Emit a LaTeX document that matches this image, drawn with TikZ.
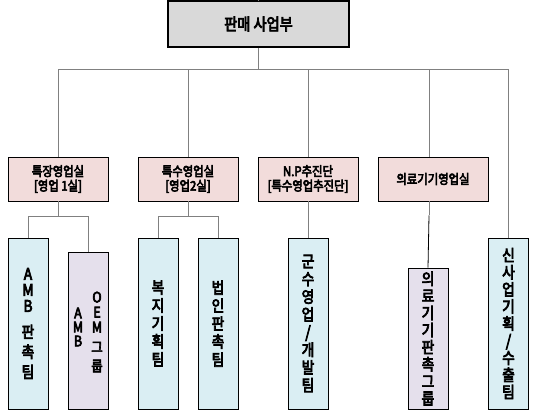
\documentclass[tikz,border=0pt]{standalone}
\usepackage{fontspec}
\newfontfamily\kr[FakeStretch=0.86,FakeBold=4.5]{Noto Sans CJK KR}
\definecolor{topfill}{HTML}{D9D9D9}
\definecolor{pinkfill}{HTML}{F2DCDB}
\definecolor{bluefill}{HTML}{DAEEF3}
\definecolor{purplefill}{HTML}{E5E0EC}
\definecolor{linegray}{HTML}{808080}
\tikzset{
  topbox/.style={draw=black, line width=1.3pt, fill=topfill, minimum width=181pt, minimum height=46pt, inner sep=0pt, font=\kr\fontsize{16.5}{18}\selectfont},
  deptbox/.style={draw=black, line width=0.8pt, fill=pinkfill, minimum height=44pt, inner sep=0pt, align=center, font=\kr\fontsize{13.2}{14.5}\selectfont},
  teambox/.style={draw=black, line width=0.8pt, fill=bluefill, minimum width=40pt, inner sep=0pt, align=center},
  grpbox/.style={teambox, fill=purplefill},
  vt/.style={font=\kr\fontsize{16}{#1}\selectfont},
  conn/.style={draw=linegray, line width=0.8pt},
  darkconn/.style={draw=black, line width=0.8pt}
}
\begin{document}
\begin{tikzpicture}[x=1pt,y=-1pt]
\useasboundingbox (0,0) rectangle (534,418);
% top
\node[topbox] (top) at (258.5,24) {판매 사업부};
\coordinate (topstub) at (258.5,0);
% departments
\node[deptbox, minimum width=100pt] (d1) at (58,179) {특장영업실\\{[}영업 1실{]}};
\node[deptbox, minimum width=100pt] (d2) at (188,179) {특수영업실\\{[}영업2실{]}};
\node[deptbox, minimum width=100pt] (d3) at (308,179) {N.P추진단\\{[}특수영업추진단{]}};
\node[deptbox, minimum width=110pt] (d4) at (433,179) {의료기기영업실};
% teams
\node[teambox, minimum height=171pt, vt=16] (t1) at (28,323.5) {A\\M\\B\\[10pt]판\\[4pt]촉\\[4pt]팀};
\node[grpbox, minimum height=157pt] (t2) at (88,330.5) {};
\node[font=\kr\fontsize{14.5}{14}\selectfont, align=center, inner sep=0pt] (t2a) at (78,327) {A\\M\\B};
\node[font=\kr\fontsize{14.5}{15}\selectfont, align=center, inner sep=0pt] (t2b) at (97,332) {O\\E\\M\\[5pt]그\\[4pt]룹};
\node[teambox, minimum height=171pt, vt=18] (t3) at (158,323.5) {복\\지\\기\\획\\팀};
\node[teambox, minimum height=171pt, vt=18] (t4) at (218,323.5) {법\\인\\판\\촉\\팀};
\node[teambox, minimum height=171pt, vt=17.7] (t5) at (308,323.5) {군\\수\\영\\업\\/\\개\\발\\팀};
\node[grpbox, minimum height=141pt, vt=17.1] (t6) at (428,338.5) {의\\료\\기\\기\\판\\촉\\그\\룹};
\node[teambox, minimum height=171pt, vt=17.1] (t7) at (508.5,323.5) {신\\사\\업\\기\\획\\/\\수\\출\\팀};
% connectors
\draw[conn] (topstub) -- (top.north);
\draw[conn] (top.south) -- ++(0,22) coordinate (bus);
\draw[conn] (d1.north) |- (bus) -| (t7.north);
\draw[conn] (d2.north) |- (bus);
\draw[conn] (d3.north) |- (bus);
\draw[conn] ([xshift=-4pt]d4.north) |- (bus);
% sub-connectors
\draw[conn] (d1.south) -- ++(0,15) coordinate (b1);
\draw[conn] (t1.north) |- (b1) -| (t2.north);
\draw[conn] (d2.south) -- ++(0,15) coordinate (b2);
\draw[conn] (t3.north) |- (b2) -| (t4.north);
\draw[conn] (d3.south) -- (t5.north);
\draw[conn] ([xshift=-4pt]d4.south) -- ++(0,14) coordinate (b4);
\draw[darkconn] (b4) -- (t6.north);
\end{tikzpicture}
\end{document}
